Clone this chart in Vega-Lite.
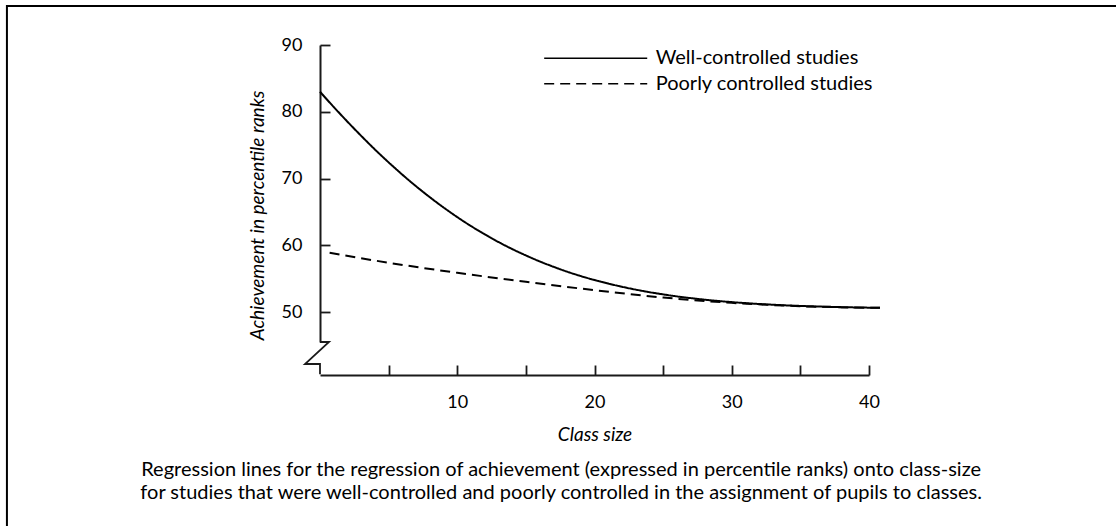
{
  "$schema": "https://vega.github.io/schema/vega-lite/v6.json",
  "width": 549,
  "height": 330,
  "autosize": {"type": "none"},
  "padding": {"left": 320, "top": 45, "right": 247, "bottom": 151},
  "background": "white",
  "config": {
    "view": {"stroke": null},
    "font": "Lato",
    "axis": {"labelFont": "Lato", "titleFont": "Lato", "grid": false}
  },
  "datasets": {
    "curves": [
      {"group": "Well-controlled studies", "size": 0, "ach": 83.0},
      {"group": "Well-controlled studies", "size": 1, "ach": 80.72},
      {"group": "Well-controlled studies", "size": 2, "ach": 78.52},
      {"group": "Well-controlled studies", "size": 3, "ach": 76.4},
      {"group": "Well-controlled studies", "size": 4, "ach": 74.36},
      {"group": "Well-controlled studies", "size": 5, "ach": 72.43},
      {"group": "Well-controlled studies", "size": 6, "ach": 70.59},
      {"group": "Well-controlled studies", "size": 7, "ach": 68.85},
      {"group": "Well-controlled studies", "size": 8, "ach": 67.22},
      {"group": "Well-controlled studies", "size": 9, "ach": 65.68},
      {"group": "Well-controlled studies", "size": 10, "ach": 64.24},
      {"group": "Well-controlled studies", "size": 11, "ach": 62.9},
      {"group": "Well-controlled studies", "size": 12, "ach": 61.66},
      {"group": "Well-controlled studies", "size": 13, "ach": 60.51},
      {"group": "Well-controlled studies", "size": 14, "ach": 59.46},
      {"group": "Well-controlled studies", "size": 15, "ach": 58.5},
      {"group": "Well-controlled studies", "size": 16, "ach": 57.61},
      {"group": "Well-controlled studies", "size": 17, "ach": 56.81},
      {"group": "Well-controlled studies", "size": 18, "ach": 56.07},
      {"group": "Well-controlled studies", "size": 19, "ach": 55.41},
      {"group": "Well-controlled studies", "size": 20, "ach": 54.82},
      {"group": "Well-controlled studies", "size": 21, "ach": 54.29},
      {"group": "Well-controlled studies", "size": 22, "ach": 53.81},
      {"group": "Well-controlled studies", "size": 23, "ach": 53.38},
      {"group": "Well-controlled studies", "size": 24, "ach": 53.0},
      {"group": "Well-controlled studies", "size": 25, "ach": 52.67},
      {"group": "Well-controlled studies", "size": 26, "ach": 52.37},
      {"group": "Well-controlled studies", "size": 27, "ach": 52.11},
      {"group": "Well-controlled studies", "size": 28, "ach": 51.88},
      {"group": "Well-controlled studies", "size": 29, "ach": 51.68},
      {"group": "Well-controlled studies", "size": 30, "ach": 51.51},
      {"group": "Well-controlled studies", "size": 32, "ach": 51.23},
      {"group": "Well-controlled studies", "size": 34, "ach": 51.02},
      {"group": "Well-controlled studies", "size": 36, "ach": 50.87},
      {"group": "Well-controlled studies", "size": 38, "ach": 50.76},
      {"group": "Well-controlled studies", "size": 40, "ach": 50.68},
      {"group": "Well-controlled studies", "size": 40.8, "ach": 50.65},
      {"group": "Poorly controlled studies", "size": 0.7, "ach": 58.9},
      {"group": "Poorly controlled studies", "size": 5, "ach": 57.4},
      {"group": "Poorly controlled studies", "size": 10, "ach": 55.9},
      {"group": "Poorly controlled studies", "size": 15, "ach": 54.55},
      {"group": "Poorly controlled studies", "size": 20, "ach": 53.3},
      {"group": "Poorly controlled studies", "size": 25, "ach": 52.2},
      {"group": "Poorly controlled studies", "size": 30, "ach": 51.4},
      {"group": "Poorly controlled studies", "size": 35, "ach": 50.9},
      {"group": "Poorly controlled studies", "size": 40.8, "ach": 50.65}
    ],
    "axisbreak": [
      {"k": 1, "size": 0, "ach": 45.54},
      {"k": 2, "size": 0.656, "ach": 45.54},
      {"k": 3, "size": -1.093, "ach": 42.25},
      {"k": 4, "size": 0, "ach": 42.25},
      {"k": 5, "size": 0, "ach": 40.7}
    ]
  },
  "layer": [
    {
      "data": {"name": "curves"},
      "mark": {"type": "line", "color": "black", "strokeWidth": 2, "interpolate": "monotone"},
      "encoding": {
        "x": {"field": "size", "type": "quantitative", "scale": {"domain": [0, 40], "nice": false, "zero": false},
          "axis": {
            "title": "Class size", "titleFontStyle": "italic", "titleFontWeight": "normal",
            "titleFontSize": 19, "titleColor": "black", "titlePadding": 14,
            "values": [5, 10, 15, 20, 25, 30, 35, 40],
            "labelExpr": "datum.value % 10 === 0 ? datum.label : ''",
            "labelFontSize": 18, "labelColor": "black", "labelPadding": 28, "labelOverlap": false, "labelFlush": false,
            "tickSize": -10, "tickColor": "#1a1a1a", "tickWidth": 1.8,
            "domainColor": "#1a1a1a", "domainWidth": 1.8
          }},
        "y": {"field": "ach", "type": "quantitative", "scale": {"domain": [45.54, 90], "range": [297, 0], "nice": false, "zero": false},
          "axis": {
            "title": "Achievement in percentile ranks", "titleFontStyle": "italic", "titleFontWeight": "normal",
            "titleFontSize": 19, "titleColor": "black", "titlePadding": 14, "titleY": 170,
            "values": [50, 60, 70, 80, 90],
            "labelFontSize": 18, "labelColor": "black", "labelPadding": 28, "labelOverlap": false, "labelFlush": false,
            "tickSize": -10, "tickColor": "#1a1a1a", "tickWidth": 1.8,
            "domainColor": "#1a1a1a", "domainWidth": 2
          }},
        "strokeDash": {
          "field": "group", "type": "nominal",
          "scale": {"domain": ["Well-controlled studies", "Poorly controlled studies"], "range": [[1, 0], [10, 6]]},
          "legend": {
            "orient": "none", "legendX": 214.2, "legendY": 3.3, "title": null, "padding": 0,
            "symbolType": "M-6.44,0H6.44", "symbolSize": 256, "symbolStrokeWidth": 1.6,
            "symbolStrokeColor": "black", "symbolFillColor": "transparent",
            "symbolOffset": 51.5, "labelOffset": 50, "labelLimit": 0,
            "labelFont": "Lato", "labelFontSize": 20, "labelColor": "black", "rowPadding": 5.4
          }
        }
      }
    },
    {
      "data": {"name": "axisbreak"},
      "mark": {"type": "line", "color": "#1a1a1a", "strokeWidth": 1.8},
      "encoding": {
        "x": {"field": "size", "type": "quantitative", "scale": {"domain": [0, 40], "nice": false, "zero": false}},
        "y": {"field": "ach", "type": "quantitative", "scale": {"domain": [45.54, 90], "range": [297, 0], "nice": false, "zero": false}},
        "order": {"field": "k", "type": "quantitative"}
      }
    },
    {
      "data": {"values": [{}]},
      "mark": {"type": "rect", "fill": "transparent", "stroke": "black", "strokeWidth": 2},
      "encoding": {
        "x": {"datum": -22.81, "type": "quantitative", "scale": {"domain": [0, 40], "nice": false, "zero": false}},
        "x2": {"datum": 62},
        "y": {"datum": 95.84, "type": "quantitative", "scale": {"domain": [45.54, 90], "range": [297, 0], "nice": false, "zero": false}},
        "y2": {"datum": 10}
      }
    },
    {
      "data": {"values": [{}]},
      "mark": {"type": "text", "align": "center", "baseline": "alphabetic", "font": "Lato", "fontSize": 20, "lineHeight": 23, "color": "black"},
      "encoding": {
        "x": {"datum": 17.57, "type": "quantitative", "scale": {"domain": [0, 40], "nice": false, "zero": false}},
        "y": {"datum": 25.48, "type": "quantitative", "scale": {"domain": [45.54, 90], "range": [297, 0], "nice": false, "zero": false}},
        "text": {"value": ["Regression lines for the regression of achievement (expressed in percentile ranks) onto class-size", "for studies that were well-controlled and poorly controlled in the assignment of pupils to classes."]}
      }
    }
  ]
}
